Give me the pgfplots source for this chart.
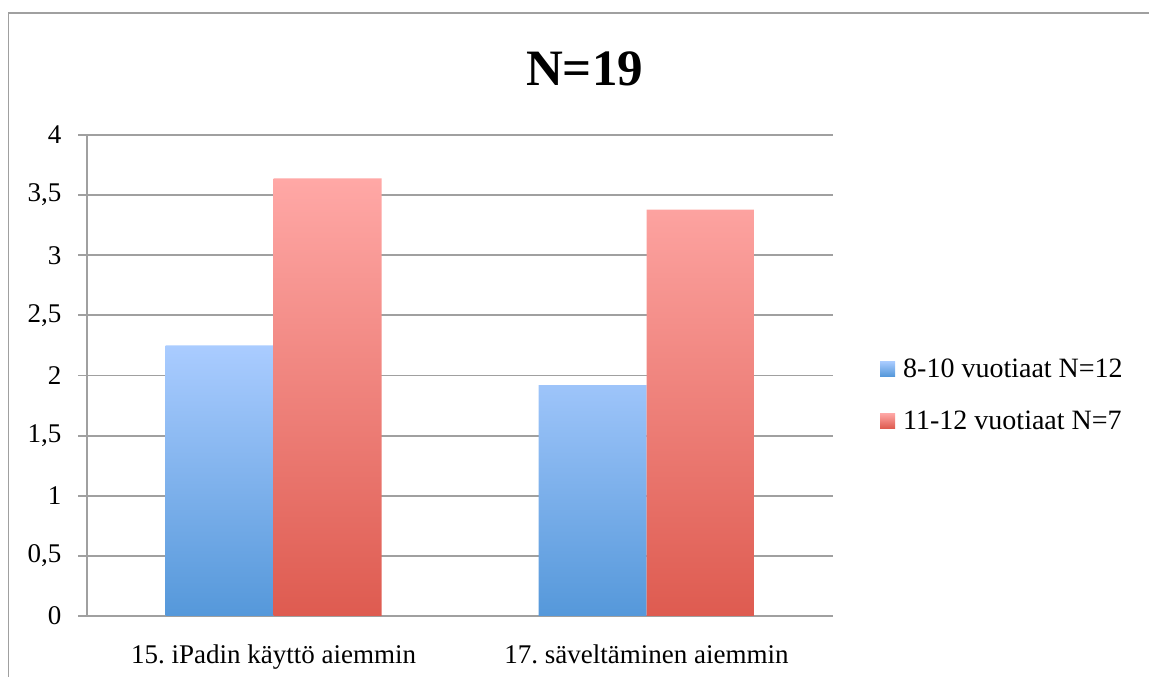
\documentclass[border=0pt]{standalone}
\usepackage{fontspec}
\setmainfont{Liberation Serif}
\usepackage{pgfplots}
\pgfplotsset{compat=1.18}
\frenchspacing
\definecolor{gridgray}{RGB}{160,160,160}
\definecolor{bluetop}{RGB}{170,204,255}
\definecolor{bluebot}{RGB}{85,152,218}
\definecolor{redtop}{RGB}{255,168,166}
\definecolor{redbot}{RGB}{222,91,80}
\begin{document}
\begin{tikzpicture}
\path[use as bounding box] (0,0) rectangle (1149pt,677pt);
\draw[gridgray, line width=1.8pt] (8.5pt,0pt) -- (8.5pt,664pt) -- (1149pt,664pt);
\begin{axis}[
  at={(87pt,61pt)}, anchor=south west,
  scale only axis, width=746pt, height=481pt,
  xmin=0.5, xmax=2.5, ymin=0, ymax=4,
  ybar=0pt, bar width=108pt,
  axis x line*=bottom, axis y line*=left,
  axis line style={gridgray, line width=1.8pt, -},
  xtick={1,2},
  xticklabels={15.\ iPadin käyttö aiemmin, 17.\ säveltäminen aiemmin},
  major x tick style={draw=none},
  extra x ticks={0.5,1.5,2.5},
  extra x tick labels={},
  extra x tick style={major tick length=8pt, tick style={gridgray, line width=1.8pt}, grid=none},
  ytick={0,0.5,1,1.5,2,2.5,3,3.5,4},
  yticklabels={0,{0,5},1,{1,5},2,{2,5},3,{3,5},4},
  ymajorgrids,
  major grid style={gridgray, line width=1.8pt},
  y tick style={gridgray, line width=1.8pt},
  tick align=outside, major tick length=9pt,
  ticklabel style={font=\fontsize{27}{32}\selectfont},
  yticklabel style={xshift=-13pt},
  xticklabel style={yshift=-16pt},
  title={\textbf{N=19}},
  title style={font=\fontsize{51}{58}\selectfont, at={(0.667,1.09)}, anchor=base},
  legend style={at={(1.063,0.46)}, anchor=west, draw=none, fill=none,
    font=\fontsize{28}{32}\selectfont, row sep=28pt, inner sep=0pt,
    /tikz/every even column/.append style={column sep=0pt}},
  legend cell align=left,
]
\addplot[draw=none, top color=bluetop, bottom color=bluebot,
  legend image code/.code={\path[top color=bluetop, bottom color=bluebot] (0pt,-7.5pt) rectangle (15pt,7.5pt);\path (15pt,0pt) -- (21pt,0pt);}]
  coordinates {(1,2.25) (2,1.92)};
\addplot[draw=none, top color=redtop, bottom color=redbot,
  legend image code/.code={\path[top color=redtop, bottom color=redbot] (0pt,-7.5pt) rectangle (15pt,7.5pt);\path (15pt,0pt) -- (21pt,0pt);}]
  coordinates {(1,3.64) (2,3.38)};
\legend{8-10 vuotiaat N=12, 11-12 vuotiaat N=7}
\end{axis}
\end{tikzpicture}
\end{document}
